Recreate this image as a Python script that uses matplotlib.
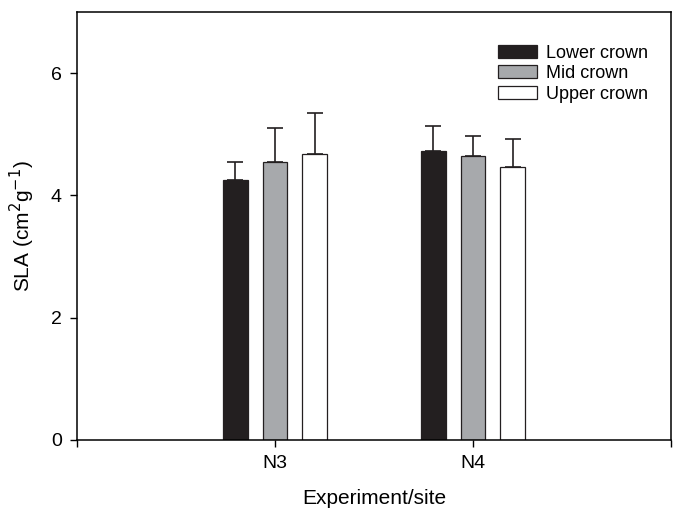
import numpy as np
import matplotlib
matplotlib.use("Agg")
import matplotlib.pyplot as plt

plt.rcParams['font.family'] = ['Liberation Sans', 'DejaVu Sans']

sites = ["N3", "N4"]
crowns = ["Lower crown", "Mid crown", "Upper crown"]
sla = {
    "Lower crown": [4.26, 4.73],
    "Mid crown": [4.55, 4.65],
    "Upper crown": [4.68, 4.47],
}
sla_err = {
    "Lower crown": [0.28, 0.41],
    "Mid crown": [0.56, 0.32],
    "Upper crown": [0.66, 0.45],
}
colors = ["#231f20", "#a7a9ac", "#ffffff"]

fig = plt.figure(figsize=(6.79, 5.08), dpi=100)
ax = fig.add_axes([0.1134, 0.1339, 0.8748, 0.8425])

x = np.arange(1, len(sites) + 1)
width = 0.125
offsets = [-0.2, 0.0, 0.2]
for crown, off, col in zip(crowns, offsets, colors):
    vals = np.array(sla[crown])
    errs = np.array(sla_err[crown])
    ax.bar(x + off, vals, width, color=col, edgecolor="#231f20", linewidth=0.9,
           label=crown, zorder=2)
    ax.errorbar(x + off, vals, yerr=[np.zeros_like(errs), errs], fmt="none",
                ecolor="#231f20", elinewidth=1.2, capsize=6, capthick=1.2, zorder=1)

ax.set_xlim(0, 3)
ax.set_ylim(0, 7)
ax.set_xticks([0, 1, 2, 3])
ax.set_xticklabels(["", "N3", "N4", ""])
ax.set_yticks([0, 2, 4, 6])
ax.tick_params(direction="out", length=5, width=1, labelsize=14, pad=6)
for s in ax.spines.values():
    s.set_linewidth(1.1)

ax.set_xlabel("Experiment/site", fontsize=15, labelpad=12)
ax.set_ylabel("SLA (cm$^2$g$^{-1}$)", fontsize=15, labelpad=10)

ax.legend(loc="upper right", bbox_to_anchor=(0.988, 0.962), frameon=False,
          fontsize=13, handlelength=2.15, handleheight=0.7, handletextpad=0.5,
          labelspacing=0.2)

fig.savefig("out.png", dpi=100)
